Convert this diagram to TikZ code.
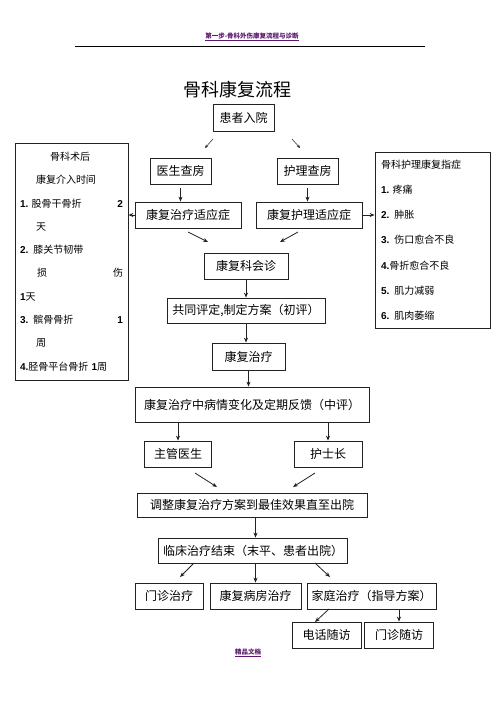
\documentclass[tikz,border=0pt]{standalone}
\usepackage{fontspec}
\setmainfont{Noto Sans CJK SC}
\newfontfamily\numfont{Liberation Sans}
\definecolor{hdrpurple}{HTML}{5B1A6E}
\definecolor{inkgray}{HTML}{222222}
\usetikzlibrary{arrows.meta,positioning}
\newcommand{\nb}[1]{{\numfont\bfseries #1}}

\begin{document}
\begin{tikzpicture}[
  x=1pt, y=-1pt,
  flowbox/.style={rectangle, draw=inkgray, line width=0.8pt, inner sep=0pt,
    minimum height=26pt, align=center, font=\fontsize{12}{14}\selectfont},
  sidebox/.style={rectangle, draw=inkgray, line width=0.8pt, inner ysep=0pt,
    align=left, font=\fontsize{10}{23.3}\selectfont},
  hdr/.style={text=hdrpurple, font=\fontsize{6.5}{7}\selectfont\bfseries},
  arr/.style={-{Stealth[length=5pt,width=4pt]}, inkgray, line width=0.8pt},
]
  \useasboundingbox (0,0) rectangle (496,702);

  % header and title
  \node[hdr] (header) at (252,37) {\underline{第一步-骨科外伤康复流程与诊断}};
  \draw[line width=0.9pt] (75,46) -- (425,46);
  \node[font=\fontsize{18}{20}\selectfont] (title) at (237,90) {骨科康复流程};

  \node[flowbox, minimum width=61pt, minimum height=27pt] (admit) at (243.5,117.5) {患者入院};
  \node[flowbox, minimum width=61pt] (docround) at (180.5,171) {医生查房};
  \node[flowbox, minimum width=61pt] (nurround) at (307.5,171) {护理查房};
  \node[flowbox, minimum width=106pt] (treatind) at (188,215) {康复治疗适应症};
  \node[flowbox, minimum width=106pt] (nursind) at (309,215) {康复护理适应症};

  \node[sidebox, text width=103pt, inner xsep=5pt, minimum height=237pt] (timebox) at (71.5,261.5)
    {\hspace*{30pt}骨科术后\\
     \hspace*{16pt}康复介入时间\\
     \nb{1.}\ 股骨干骨折\hfill\nb{2}\\
     \hspace*{16pt}天\\
     \nb{2.} 膝关节韧带\\
     \hspace*{17pt}损\hfill 伤\\
     \nb{1}天\\
     \nb{3.} 髌骨骨折\hfill\nb{1}\\
     \hspace*{16pt}周\\
     \nb{4.}胫骨平台骨折 \nb{1}周};
  \node[sidebox, text width=103pt, inner xsep=6pt, minimum height=176pt,
    font=\fontsize{10}{25.2}\selectfont] (indbox) at (432.5,240)
    {骨科护理康复指症\\
     \nb{1.}\ 疼痛\\
     \nb{2.} 肿胀\\
     \nb{3.} 伤口愈合不良\\
     \nb{4.}骨折愈合不良\\
     \nb{5.} 肌力减弱\\
     \nb{6.} 肌肉萎缩};

  \node[flowbox, minimum width=84pt] (consult) at (246,266) {康复科会诊};
  \node[flowbox, minimum width=158pt, minimum height=25pt] (plan) at (246,310.5) {共同评定,制定方案（初评）};
  \node[flowbox, minimum width=73pt, minimum height=27pt] (therapy) at (248.5,356.5) {康复治疗};
  \node[flowbox, minimum width=234pt, minimum height=35pt] (feedback) at (252,404.5)
    {康复治疗中病情变化及定期反馈（中评）};
  \node[flowbox, minimum width=67pt] (attending) at (178,454) {主管医生};
  \node[flowbox, minimum width=68pt] (headnurse) at (328,454) {护士长};
  \node[flowbox, minimum width=230pt, minimum height=24pt] (adjust) at (252,505)
    {调整康复治疗方案到最佳效果直至出院};
  \node[flowbox, minimum width=189pt, minimum height=25pt] (discharge) at (253,550.5)
    {临床治疗结束（末平、患者出院）};
  \node[flowbox, minimum width=68pt] (outpat) at (169,596) {门诊治疗};
  \node[flowbox, minimum width=91pt] (ward) at (255.5,596) {康复病房治疗};
  \node[flowbox, minimum width=129pt] (home) at (371.5,596) {家庭治疗（指导方案）};
  \node[flowbox, minimum width=69pt] (phone) at (326.5,635) {电话随访};
  \node[flowbox, minimum width=69pt] (clinic) at (399,635) {门诊随访};

  \node[hdr] (footer) at (248,653) {\underline{精品文档}};

  % loose arrow ends
  \coordinate (a1) at (213,139); \coordinate (a2) at (205,148);
  \coordinate (b1) at (292,139); \coordinate (b2) at (300,148);
  \coordinate (c1) at (188,232); \coordinate (c2) at (208,242);
  \coordinate (d1) at (298,232); \coordinate (d2) at (280,242);
  \coordinate (e1) at (195,473); \coordinate (e2) at (217,487);
  \coordinate (f1) at (315,473); \coordinate (f2) at (293,487);
  \coordinate (g1) at (194,563); \coordinate (g2) at (180,577);
  \coordinate (h1) at (315,563); \coordinate (h2) at (330,577);
  \coordinate (k1) at (329,609); \coordinate (k2) at (315,622);

  \draw[arr, line width=0.5pt, -{Stealth[length=3.5pt,width=3pt]}] (a1) -- (a2);
  \draw[arr, line width=0.5pt, -{Stealth[length=3.5pt,width=3pt]}] (b1) -- (b2);
  \draw[arr, shorten <=4pt] (docround.south) -- (docround.south |- treatind.north);
  \draw[arr, shorten <=4pt] (nurround.south) -- (nurround.south |- nursind.north);
  \draw[arr] (treatind.west) -- (treatind.west -| timebox.east);
  \draw[arr] (nursind.east) -- (nursind.east -| indbox.west);
  \draw[arr] (c1) -- (c2);
  \draw[arr] (d1) -- (d2);
  \draw[arr] (consult.south) -- (consult.south |- plan.north);
  \draw[arr] (plan.south) -- (plan.south |- therapy.north);
  \draw[arr] (therapy.south) -- (therapy.south |- feedback.north);
  \draw[arr] (attending.north |- feedback.south) -- (attending.north);
  \draw[arr] (headnurse.north |- feedback.south) -- (headnurse.north);
  \draw[arr] (e1) -- (e2);
  \draw[arr] (f1) -- (f2);
  \draw[arr] (ward.north |- adjust.south) -- (ward.north |- discharge.north);
  \draw[arr] (g1) -- (g2);
  \draw[arr] (ward.north |- discharge.south) -- (ward.north);
  \draw[arr] (h1) -- (h2);
  \draw[arr] (k1) -- (k2);
  \draw[arr] (clinic.north |- home.south) -- (clinic.north);
\end{tikzpicture}
\end{document}
